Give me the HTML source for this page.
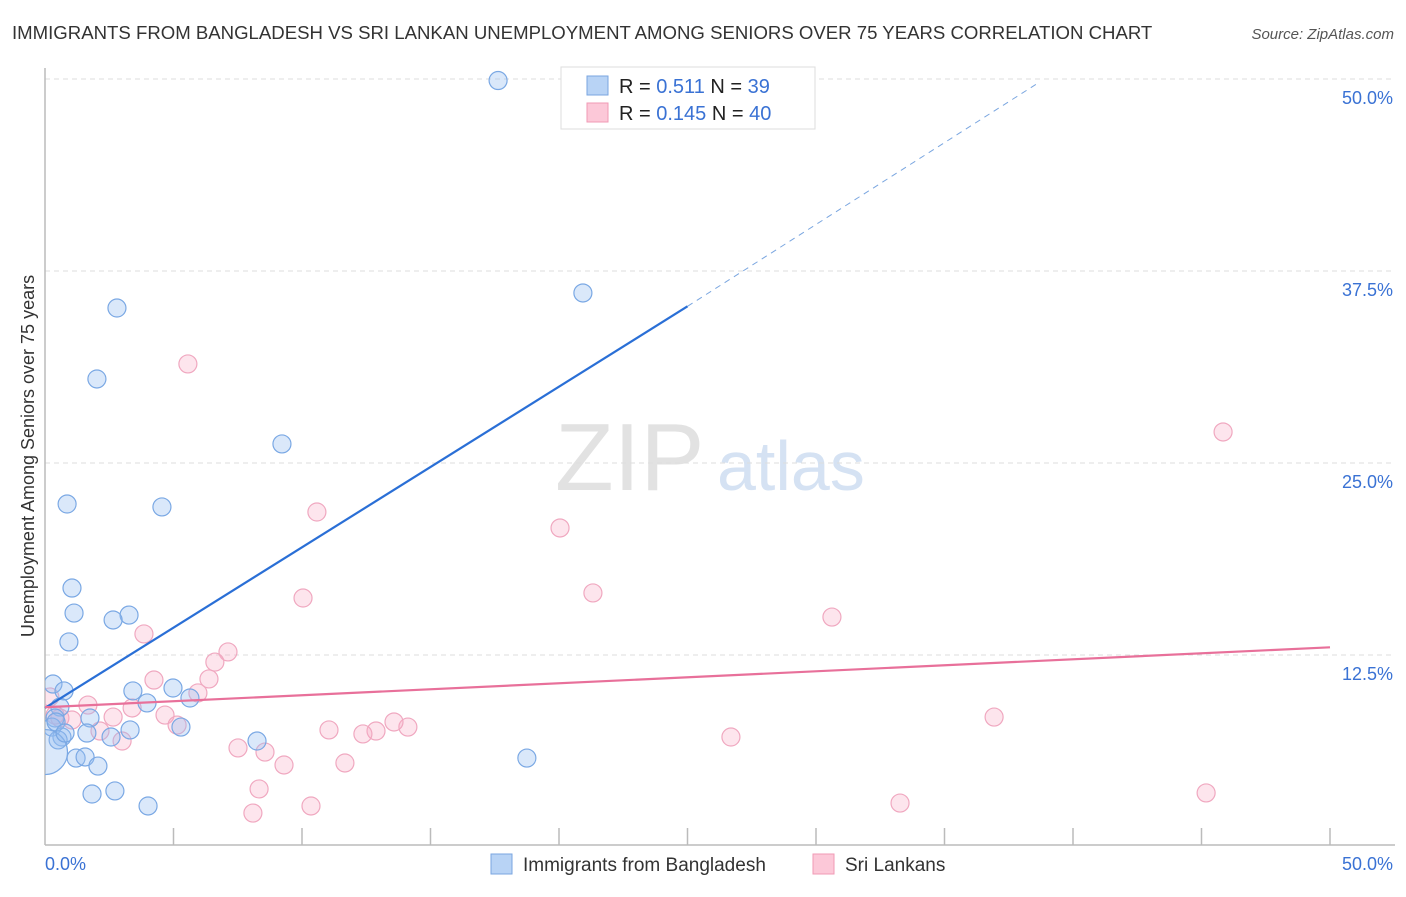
<!DOCTYPE html>
<html><head><meta charset="utf-8"><style>
body{margin:0;background:#fff;font-family:"Liberation Sans",sans-serif;}
svg text{font-family:"Liberation Sans",sans-serif;}
</style></head><body>
<svg width="1406" height="892" xmlns="http://www.w3.org/2000/svg">
<text x="12" y="39" font-size="18.6" fill="#333">IMMIGRANTS FROM BANGLADESH VS SRI LANKAN UNEMPLOYMENT AMONG SENIORS OVER 75 YEARS CORRELATION CHART</text>
<text x="1394" y="39" font-size="15" fill="#555" font-style="italic" text-anchor="end">Source: ZipAtlas.com</text>
<g>
<text x="555" y="490" font-size="96" fill="#e2e2e2" font-family="Liberation Serif,serif">ZIP</text>
<text x="717" y="490" font-size="70" fill="#d5e2f3">atlas</text>
</g>
<g id="grid"></g>
<g id="axes"></g>
<defs><clipPath id="pc"><rect x="45" y="60" width="1360" height="785"/></clipPath></defs>
<g id="pts" clip-path="url(#pc)"></g>
<g id="trends"></g>
<text transform="translate(34,456) rotate(-90)" font-size="18" fill="#333" text-anchor="middle">Unemployment Among Seniors over 75 years</text>
<g>
<rect x="561" y="67" width="254" height="62" fill="#fff" stroke="#ddd"/>
<rect x="587" y="76" width="21" height="19" fill="#b8d3f5" stroke="#7aa6e0"/>
<rect x="587" y="103" width="21" height="19" fill="#fcc8d8" stroke="#f09ab5"/>
<text x="619" y="93" font-size="20" fill="#222">R = <tspan fill="#3a72d4"> 0.511</tspan>   N = <tspan fill="#3a72d4"> 39</tspan></text>
<text x="619" y="120" font-size="20" fill="#222">R = <tspan fill="#3a72d4">0.145</tspan>   N = <tspan fill="#3a72d4">40</tspan></text>
</g>
<g>
<rect x="491" y="854" width="21" height="20" fill="#b8d3f5" stroke="#7aa6e0"/>
<text x="523" y="871" font-size="19" fill="#333">Immigrants from Bangladesh</text>
<rect x="813" y="854" width="21" height="20" fill="#fcc8d8" stroke="#f09ab5"/>
<text x="845" y="871" font-size="19" fill="#333">Sri Lankans</text>
</g>
</svg>
<script>
const yTicks=[12.5,25,37.5,50];
const yTickLabels=["12.5%","25.0%","37.5%","50.0%"];
const xTickLabels=["0.0%","50.0%"];
const blueX=[17.63,20.93,2.80,2.02,9.22,0.86,4.55,1.05,1.13,3.27,2.65,0.93,0.31,0.74,3.42,4.98,3.97,5.64,0.58,1.75,0.39,0.27,3.31,5.29,1.63,2.57,0.66,0.51,8.25,1.21,1.56,2.06,18.75,2.72,1.83,4.01,0,0.43,0.78];
const blueY=[49.9,36.07,35.09,30.47,26.24,22.33,22.14,16.86,15.23,15.10,14.78,13.35,10.61,10.16,10.16,10.35,9.38,9.70,9.11,8.40,8.40,7.81,7.62,7.81,7.42,7.16,7.16,6.97,6.90,5.79,5.86,5.27,5.79,3.65,3.45,2.67,6.18,8.14,7.42];
const blueSize=[1,1,1,1,1,1,1,1,1,1,1,1,1,1,1,1,1,1,1,1,1,1,1,1,1,1,1,1,1,1,1,1,1,1,1,1,2.5,1,1];
const pinkX=[5.56,10.58,20.04,10.04,21.32,30.62,45.84,3.85,7.12,6.61,6.38,4.24,5.95,1.67,3.39,4.67,2.65,0.58,1.05,5.14,11.05,14.12,13.58,12.88,12.37,2.14,3.00,7.51,8.56,9.30,11.67,8.33,10.35,8.09,26.69,36.93,33.27,45.18,0.19,0.39];
const pinkY=[31.45,21.81,20.77,16.21,16.54,14.97,27.02,13.87,12.70,12.04,10.94,10.87,10.03,9.24,9.05,8.59,8.46,8.40,8.27,7.94,7.62,7.81,8.14,7.55,7.36,7.55,6.90,6.45,6.18,5.34,5.47,3.78,2.67,2.21,7.16,8.46,2.86,3.52,9.77,8.59];
const blueTrend=[[0,9.05],[25.0,35.2],[38.7,49.8]];
const pinkTrend=[[0,9.1],[50,13.0]];
const NS="http://www.w3.org/2000/svg";
const X=v=>45+v/50*1285, Y=v=>847-v/12.5*192;
function mk(t,a,p){const e=document.createElementNS(NS,t);for(const k in a)e.setAttribute(k,a[k]);p.appendChild(e);return e;}
const grid=document.getElementById('grid'),axes=document.getElementById('axes'),pts=document.getElementById('pts'),tr=document.getElementById('trends');
yTicks.forEach((t,i)=>{
 const l=mk('line',{x1:45,x2:1395,y1:Y(t),y2:Y(t),stroke:'#ddd','stroke-dasharray':'5,4'},grid);
 
 
 const tx=mk('text',{x:1393,y:Y(t)+25,'font-size':18,fill:'#3a72d4','text-anchor':'end'},axes);
 tx.textContent=yTickLabels[i];
 
 
});
const al=mk('line',{x1:45,x2:45,y1:68,y2:845,stroke:'#bbb','stroke-width':1.5},axes);


const bl=mk('line',{x1:45,x2:1395,y1:845,y2:845,stroke:'#bbb','stroke-width':1.5},axes);


for(let i=1;i<=10;i++){const tk=mk('line',{x1:X(i*5),x2:X(i*5),y1:828,y2:845,stroke:'#bbb','stroke-width':1.5},axes);
 
 }
const x0=mk('text',{x:45,y:870,'font-size':18,fill:'#3a72d4'},axes);x0.textContent=xTickLabels[0];


const x1=mk('text',{x:1393,y:870,'font-size':18,fill:'#3a72d4','text-anchor':'end'},axes);x1.textContent=xTickLabels[1];


pinkX.forEach((v,i)=>{const c=mk('circle',{cx:X(v),cy:Y(pinkY[i]),r:9,fill:'rgba(248,170,195,0.3)',stroke:'#f0a8c0','stroke-width':1.2},pts);
 
 });
blueX.forEach((v,i)=>{const c=mk('circle',{cx:X(v),cy:Y(blueY[i]),r:9*blueSize[i],fill:'rgba(150,190,240,0.35)',stroke:'#7aa8e4','stroke-width':1.2},pts);
 
 });
const b1=mk('line',{x1:X(blueTrend[0][0]),y1:Y(blueTrend[0][1]),x2:X(blueTrend[1][0]),y2:Y(blueTrend[1][1]),stroke:'#2a6fd6','stroke-width':2.2},tr);


const b2=mk('line',{x1:X(blueTrend[1][0]),y1:Y(blueTrend[1][1]),x2:X(blueTrend[2][0]),y2:Y(blueTrend[2][1]),stroke:'#7aa6e0','stroke-width':1,'stroke-dasharray':'6,5'},tr);


const p1=mk('line',{x1:X(pinkTrend[0][0]),y1:Y(pinkTrend[0][1]),x2:X(pinkTrend[1][0]),y2:Y(pinkTrend[1][1]),stroke:'#e8709a','stroke-width':2.2},tr);


</script>
</body></html>
